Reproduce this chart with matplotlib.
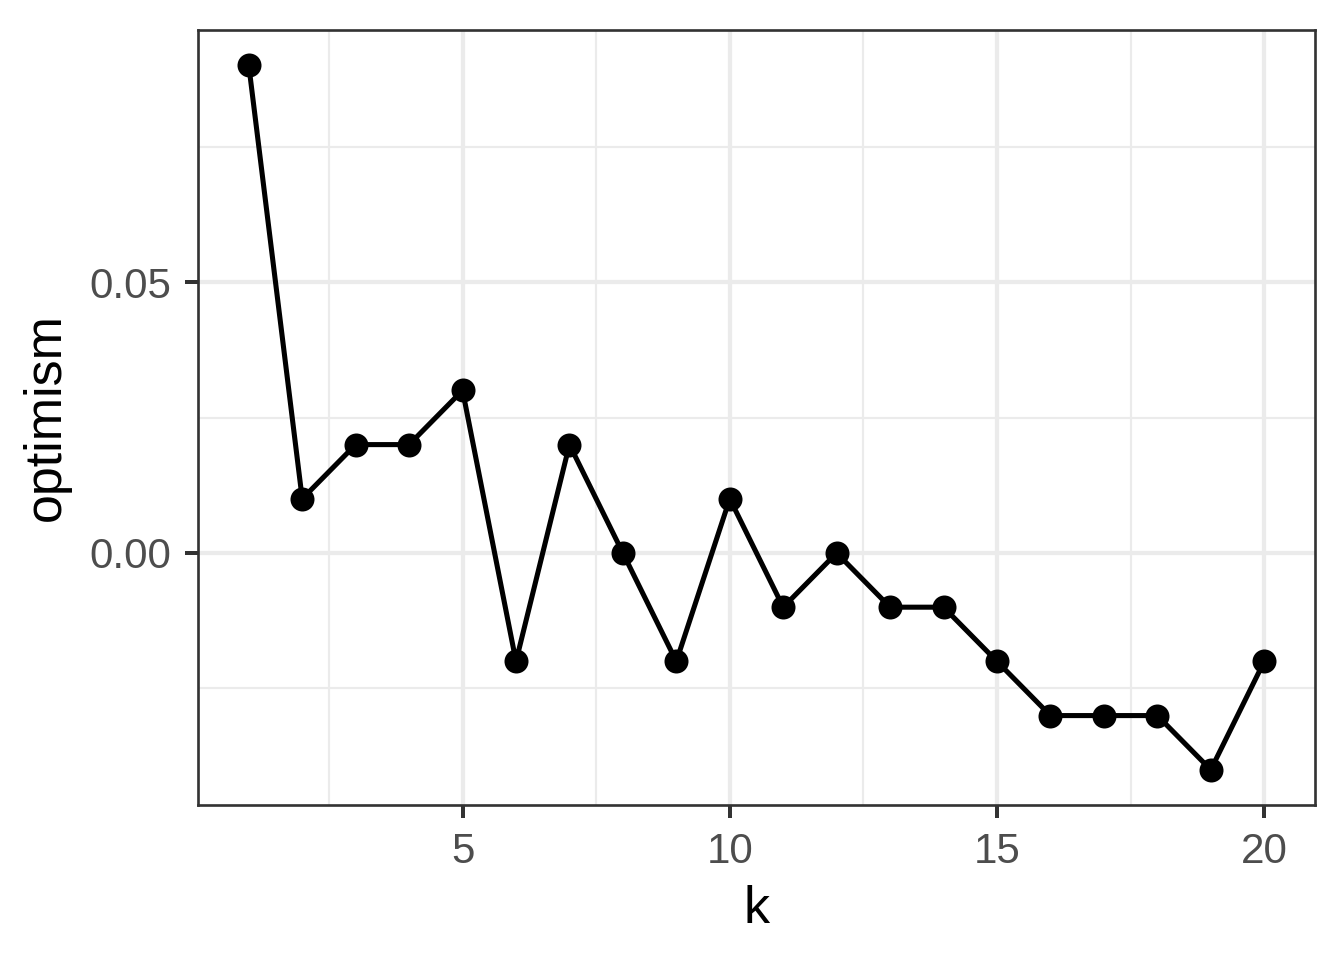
import matplotlib
matplotlib.use("Agg")
import matplotlib.pyplot as plt
from matplotlib.ticker import FixedLocator

plt.rcParams['font.family'] = ['Liberation Sans', 'DejaVu Sans']

k = list(range(1, 21))
optimism = [0.09, 0.01, 0.02, 0.02, 0.03, -0.02, 0.02, 0.00, -0.02, 0.01,
            -0.01, 0.00, -0.01, -0.01, -0.02, -0.03, -0.03, -0.03, -0.04, -0.02]
x_ticks = [5, 10, 15, 20]
y_ticks = [0.00, 0.05]
y_tick_labels = ["0.00", "0.05"]

fig = plt.figure(figsize=(7, 5), dpi=192)
ax = fig.add_axes([198/1344, 1 - 805/960, (1315-198)/1344, (805-30)/960])

ax.plot(k, optimism, color='black', linewidth=1.9, zorder=3)
ax.plot(k, optimism, 'o', color='black', markersize=8, zorder=4)

xr = max(k) - min(k)
ax.set_xlim(min(k) - 0.05*xr, max(k) + 0.05*xr)
yr = max(optimism) - min(optimism)
ax.set_ylim(min(optimism) - 0.05*yr, max(optimism) + 0.05*yr)

ax.xaxis.set_major_locator(FixedLocator(x_ticks))
ax.yaxis.set_major_locator(FixedLocator(y_ticks))
ax.set_yticklabels(y_tick_labels)
ax.xaxis.set_minor_locator(FixedLocator([2.5, 7.5, 12.5, 17.5]))
ax.yaxis.set_minor_locator(FixedLocator([-0.025, 0.025, 0.075]))

ax.grid(which='major', color='#EBEBEB', linewidth=1.6, zorder=0)
ax.grid(which='minor', color='#EBEBEB', linewidth=0.8, zorder=0)
ax.set_axisbelow(True)

for s in ax.spines.values():
    s.set_color('#333333')
    s.set_linewidth(1.0)

ax.tick_params(which='major', length=5, width=1.5, color='#333333',
               labelsize=15.8, labelcolor='#4D4D4D', pad=5)
ax.tick_params(which='minor', length=0)

ax.set_xlabel('k', fontsize=19.5, labelpad=5)
ax.set_ylabel('optimism', fontsize=19.5, labelpad=7)

fig.savefig('out.png', dpi=192, facecolor='white')
